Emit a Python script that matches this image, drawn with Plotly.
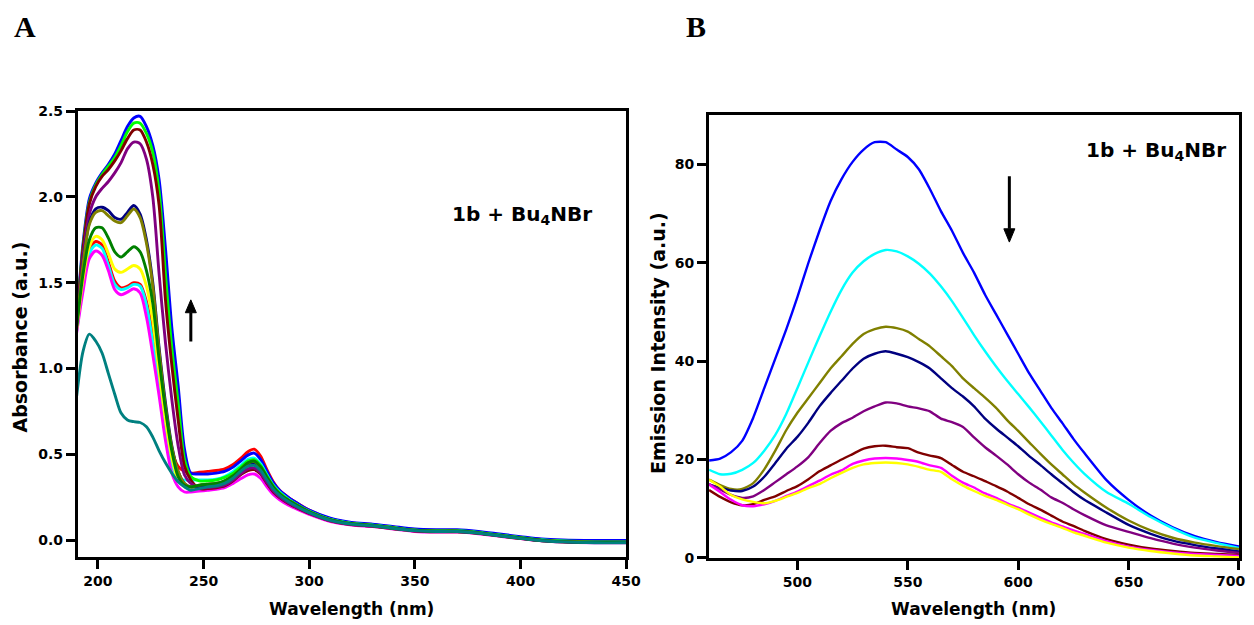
import plotly.graph_objects as go

# ---------------- Panel A : absorbance ----------------
wl_a = [190, 193, 196, 199, 202, 205, 208, 211, 214, 217, 220, 223, 226, 229, 232, 235, 238, 241, 244, 248,
        252, 256, 260, 264, 268, 271, 274, 277, 280, 283, 286, 290, 295, 300, 310, 320, 330, 340, 350, 360,
        370, 380, 390, 400, 410, 420, 435, 450]

abs_red = [1.23, 1.50, 1.69, 1.74, 1.72, 1.62, 1.51, 1.47, 1.48, 1.50, 1.49, 1.39, 1.20, 0.95, 0.70, 0.52, 0.43, 0.40, 0.39, 0.395,
           0.40, 0.405, 0.415, 0.44, 0.48, 0.515, 0.53, 0.49, 0.41, 0.34, 0.29, 0.25, 0.21, 0.175, 0.125, 0.10, 0.09, 0.075, 0.06, 0.055,
           0.055, 0.045, 0.03, 0.015, 0.002, -0.005, -0.01, -0.01]
abs_blue = [1.29, 1.73, 1.99, 2.08, 2.14, 2.19, 2.25, 2.33, 2.41, 2.46, 2.47, 2.41, 2.30, 2.10, 1.70, 1.24, 0.90, 0.53, 0.39, 0.385,
            0.385, 0.39, 0.40, 0.425, 0.465, 0.495, 0.507, 0.47, 0.40, 0.335, 0.29, 0.25, 0.21, 0.175, 0.128, 0.103, 0.093, 0.078, 0.064, 0.06,
            0.06, 0.05, 0.035, 0.02, 0.006, 0.0, -0.003, -0.003]
abs_cyan = [1.22, 1.48, 1.67, 1.72, 1.70, 1.60, 1.49, 1.46, 1.47, 1.49, 1.48, 1.37, 1.15, 0.88, 0.63, 0.44, 0.36, 0.35, 0.35, 0.35,
            0.35, 0.355, 0.37, 0.40, 0.44, 0.47, 0.478, 0.445, 0.38, 0.32, 0.28, 0.24, 0.20, 0.168, 0.12, 0.097, 0.087, 0.072, 0.058, 0.053,
            0.053, 0.043, 0.028, 0.013, 0.0, -0.007, -0.012, -0.012]
abs_lime = [1.28, 1.71, 1.97, 2.07, 2.13, 2.18, 2.23, 2.30, 2.38, 2.43, 2.43, 2.37, 2.26, 2.03, 1.55, 1.12, 0.80, 0.47, 0.37, 0.345,
            0.345, 0.35, 0.365, 0.39, 0.43, 0.46, 0.468, 0.435, 0.375, 0.315, 0.275, 0.237, 0.20, 0.167, 0.12, 0.097, 0.087, 0.072, 0.058, 0.054,
            0.054, 0.044, 0.029, 0.014, 0.0, -0.006, -0.011, -0.011]
abs_magenta = [1.21, 1.45, 1.64, 1.685, 1.66, 1.57, 1.46, 1.43, 1.445, 1.465, 1.44, 1.30, 1.08, 0.84, 0.58, 0.39, 0.31, 0.28, 0.28, 0.285,
               0.29, 0.295, 0.305, 0.33, 0.36, 0.38, 0.385, 0.36, 0.31, 0.265, 0.235, 0.205, 0.175, 0.15, 0.108, 0.088, 0.078, 0.064, 0.05, 0.046,
               0.046, 0.037, 0.022, 0.008, -0.005, -0.012, -0.016, -0.016]
abs_yellow = [1.23, 1.52, 1.71, 1.77, 1.75, 1.67, 1.58, 1.56, 1.58, 1.60, 1.58, 1.48, 1.28, 0.98, 0.70, 0.48, 0.35, 0.31, 0.30, 0.305,
              0.31, 0.315, 0.33, 0.36, 0.405, 0.435, 0.44, 0.41, 0.35, 0.295, 0.26, 0.225, 0.19, 0.16, 0.115, 0.093, 0.083, 0.068, 0.055, 0.05,
              0.05, 0.04, 0.025, 0.01, -0.003, -0.01, -0.014, -0.014]
abs_maroon = [1.27, 1.70, 1.96, 2.06, 2.12, 2.16, 2.21, 2.27, 2.34, 2.39, 2.39, 2.32, 2.19, 1.95, 1.40, 1.02, 0.70, 0.43, 0.35, 0.30,
              0.30, 0.305, 0.315, 0.345, 0.385, 0.405, 0.41, 0.385, 0.33, 0.28, 0.248, 0.215, 0.183, 0.155, 0.112, 0.09, 0.08, 0.066, 0.053, 0.048,
              0.048, 0.039, 0.024, 0.009, -0.004, -0.011, -0.015, -0.015]
abs_purple = [1.26, 1.66, 1.90, 2.00, 2.05, 2.09, 2.14, 2.20, 2.28, 2.32, 2.31, 2.22, 2.00, 1.55, 1.15, 0.82, 0.55, 0.38, 0.33, 0.305,
              0.305, 0.31, 0.32, 0.35, 0.39, 0.415, 0.42, 0.39, 0.335, 0.285, 0.25, 0.218, 0.185, 0.157, 0.113, 0.091, 0.081, 0.067, 0.054, 0.049,
              0.049, 0.04, 0.025, 0.01, -0.003, -0.01, -0.014, -0.014]
abs_navy = [1.25, 1.62, 1.85, 1.93, 1.94, 1.92, 1.88, 1.87, 1.91, 1.95, 1.90, 1.75, 1.50, 1.12, 0.80, 0.55, 0.40, 0.33, 0.31, 0.315,
            0.32, 0.325, 0.34, 0.37, 0.41, 0.44, 0.45, 0.42, 0.36, 0.305, 0.265, 0.23, 0.195, 0.163, 0.117, 0.094, 0.084, 0.069, 0.056, 0.051,
            0.051, 0.041, 0.026, 0.011, -0.002, -0.009, -0.013, -0.013]
abs_olive = [1.25, 1.61, 1.84, 1.91, 1.92, 1.89, 1.86, 1.85, 1.89, 1.93, 1.88, 1.73, 1.48, 1.10, 0.78, 0.54, 0.40, 0.33, 0.31, 0.32,
             0.325, 0.33, 0.345, 0.375, 0.415, 0.448, 0.458, 0.425, 0.365, 0.31, 0.27, 0.233, 0.197, 0.165, 0.118, 0.095, 0.085, 0.07, 0.057, 0.052,
             0.052, 0.042, 0.027, 0.012, -0.002, -0.008, -0.013, -0.013]
abs_green = [1.24, 1.55, 1.75, 1.82, 1.82, 1.76, 1.68, 1.65, 1.68, 1.71, 1.68, 1.57, 1.38, 1.05, 0.76, 0.52, 0.37, 0.32, 0.31, 0.32,
             0.325, 0.33, 0.345, 0.375, 0.418, 0.45, 0.46, 0.427, 0.367, 0.31, 0.27, 0.233, 0.197, 0.165, 0.118, 0.095, 0.085, 0.07, 0.057, 0.052,
             0.052, 0.042, 0.027, 0.012, -0.002, -0.009, -0.014, -0.014]
abs_teal = [0.84, 1.10, 1.20, 1.16, 1.09, 0.97, 0.85, 0.74, 0.70, 0.69, 0.685, 0.66, 0.60, 0.52, 0.45, 0.39, 0.34, 0.31, 0.29, 0.30,
            0.31, 0.315, 0.33, 0.36, 0.405, 0.43, 0.435, 0.405, 0.35, 0.297, 0.26, 0.225, 0.19, 0.16, 0.115, 0.093, 0.083, 0.068, 0.055, 0.05,
            0.05, 0.04, 0.025, 0.01, -0.004, -0.011, -0.016, -0.016]

series_a = [
    (abs_red, "#FF0000"), (abs_blue, "#0000FF"), (abs_cyan, "#00FFFF"), (abs_lime, "#00FF00"),
    (abs_magenta, "#FF00FF"), (abs_yellow, "#FFFF00"), (abs_maroon, "#800000"), (abs_purple, "#800080"),
    (abs_navy, "#000080"), (abs_olive, "#808000"), (abs_green, "#008000"), (abs_teal, "#008080"),
]

# ---------------- Panel B : emission ----------------
wl_b = [460, 465, 470, 475, 480, 485, 490, 495, 500, 505, 510, 515, 520, 525, 530, 535, 540, 545, 550, 555,
        560, 565, 570, 575, 580, 585, 590, 595, 600, 605, 610, 615, 620, 625, 630, 640, 650, 660, 670, 680,
        690, 700]

em_blue = [19.8, 20.2, 21.5, 23.8, 28.5, 34.5, 40.5, 46.5, 53, 60, 66.5, 72.5, 77, 80.5, 83, 84.5, 84.5, 83, 81.5, 79,
           75, 70.5, 66.5, 62, 58, 53.5, 49.5, 45.5, 41.5, 37.5, 34, 30.5, 27.4, 24.2, 21.3, 15.8, 11.8, 8.6, 6.2, 4.4,
           3.2, 2.3]
em_cyan = [17.9, 17.0, 17.1, 17.9, 19.3, 21.8, 25, 29.3, 34.5, 39.8, 45.0, 50.0, 54.5, 58.0, 60.3, 61.8, 62.6, 62.3, 61.3, 59.8,
           57.8, 55.2, 52.2, 48.8, 45.3, 42.0, 38.9, 36.0, 33.3, 30.6, 27.8, 24.9, 22.0, 19.4, 17.1, 13.4, 11.0, 8.3, 6.0, 4.1,
           3.0, 2.0]
em_olive = [15.9, 14.8, 14.0, 14.0, 15.2, 18.0, 21.8, 26, 29.5, 32.5, 35.5, 38.5, 41, 43.5, 45.5, 46.5, 47, 46.7, 46, 44.5,
            43, 41, 39, 36.5, 34.5, 32.6, 30.5, 28, 25.8, 23.5, 21.2, 19, 17, 15, 13.3, 10.2, 7.6, 5.6, 4.1, 3.1,
            2.4, 1.8]
em_navy = [14.9, 14.3, 13.7, 13.6, 14.5, 16.5, 19.3, 22.2, 24.6, 27.5, 30.8, 33.5, 36, 38.5, 40.5, 41.5, 42, 41.5, 40.8, 39.8,
           38.5, 36.5, 34.5, 32.8, 30.8, 28.3, 26.3, 24.5, 22.7, 20.7, 18.9, 17, 15.2, 13.4, 11.8, 9.2, 6.7, 4.9, 3.5, 2.6,
           1.9, 1.3]
em_purple = [15.0, 13.9, 12.8, 12.2, 12.5, 13.8, 15.4, 17.0, 18.6, 20.5, 23.3, 25.8, 27.4, 28.5, 29.8, 30.8, 31.6, 31.4, 30.8, 30.4,
             29.8, 28.3, 27.6, 26.6, 24.5, 22.5, 20.8, 19.0, 17.0, 15.3, 13.9, 12.3, 11.2, 9.9, 8.7, 6.6, 5.3, 4.0, 2.9, 2.1,
             1.5, 1.0]
em_maroon = [13.8, 12.4, 11.3, 10.7, 10.9, 11.8, 12.5, 13.6, 14.6, 16.0, 17.6, 18.8, 20.0, 21.1, 22.2, 22.7, 22.8, 22.5, 22.3, 21.4,
             20.8, 20.3, 18.9, 17.5, 16.6, 15.6, 14.6, 13.5, 12.2, 10.9, 9.8, 8.6, 7.4, 6.5, 5.5, 3.8, 2.7, 1.9, 1.4, 1.0,
             0.8, 0.6]
em_magenta = [14.9, 13.4, 11.8, 10.7, 10.5, 10.9, 11.6, 12.6, 13.5, 14.6, 15.7, 16.9, 17.8, 19.1, 19.8, 20.2, 20.3, 20.2, 19.9, 19.5,
              18.8, 18.3, 16.7, 15.3, 14.3, 13.1, 12.2, 11.1, 10.2, 9.2, 8.2, 7.2, 6.4, 5.6, 4.9, 3.4, 2.3, 1.6, 1.1, 0.8,
              0.6, 0.4]
em_yellow = [15.9, 14.5, 12.8, 11.9, 11.4, 11.1, 11.6, 12.4, 13.2, 14.2, 15.0, 16.2, 17.3, 18.3, 19.0, 19.3, 19.4, 19.3, 19.0, 18.5,
             17.9, 17.5, 16.0, 14.7, 13.6, 12.6, 11.8, 10.8, 9.9, 8.8, 7.8, 6.9, 6.1, 5.2, 4.5, 3.1, 2.1, 1.4, 0.9, 0.5,
             0.3, 0.1]

series_b = [
    (em_blue, "#0000FF"), (em_cyan, "#00FFFF"), (em_olive, "#808000"), (em_navy, "#000080"),
    (em_purple, "#800080"), (em_maroon, "#800000"), (em_magenta, "#FF00FF"), (em_yellow, "#FFFF00"),
]

ticks_a_x = [200, 250, 300, 350, 400, 450]
ticks_a_y = [0.0, 0.5, 1.0, 1.5, 2.0, 2.5]
ticks_b_x = [500, 550, 600, 650, 700]
ticks_b_xtext = ["500", "550", "600", "650", ""]   # "700" is written as an annotation so it is not clipped
ticks_b_y = [0, 20, 40, 60, 80]

fig = go.Figure()
for vals, col in series_a:
    fig.add_trace(go.Scatter(x=wl_a, y=vals, mode="lines", xaxis="x", yaxis="y", showlegend=False,
                             line=dict(color=col, width=2.9, shape="spline", smoothing=0.8)))
for vals, col in series_b:
    fig.add_trace(go.Scatter(x=wl_b, y=vals, mode="lines", xaxis="x2", yaxis="y2", showlegend=False,
                             line=dict(color=col, width=2.4, shape="spline", smoothing=0.6)))

tick_font = dict(family="DejaVu Sans", size=14, color="black", weight="bold")
ax_common = dict(showline=True, mirror=True, linewidth=3, linecolor="black", ticks="outside",
                 ticklen=9, tickwidth=3, tickcolor="black", showgrid=False, zeroline=False,
                 tickfont=tick_font)

W, H = 1254, 625
# the page lays the figure out in a slightly smaller box (body margins); map target pixels onto it
OX, OY, EW, EH = 8.0, 17.0, 1238.0, 608.0


def px_x(p):
    return (p - OX) / EW


def px_y(p):
    return 1.0 - (p - OY) / EH


fig.update_layout(
    width=W, height=H, margin=dict(l=0, r=0, t=0, b=0),
    paper_bgcolor="white", plot_bgcolor="white",
    xaxis=dict(domain=[px_x(77.7), px_x(625.7)], range=[190.5, 450], tickvals=ticks_a_x,
               anchor="y", **ax_common),
    yaxis=dict(domain=[px_y(557.3), px_y(112)], range=[-0.1, 2.5], tickvals=ticks_a_y,
               tickformat=".1f", anchor="x", **ax_common),
    xaxis2=dict(domain=[px_x(708.5), px_x(1238)], range=[460, 700], tickvals=ticks_b_x,
                ticktext=ticks_b_xtext, anchor="y2", **ax_common),
    yaxis2=dict(domain=[px_y(558), px_y(116)], range=[0, 90], tickvals=ticks_b_y,
                anchor="x2", **ax_common),
)

title_font = dict(family="DejaVu Sans", size=17, color="black", weight="bold")
ytitle_font = dict(family="DejaVu Sans", size=19, color="black", weight="bold")
label_font = dict(family="DejaVu Sans", size=20, color="black", weight="bold")
panel_font = dict(family="Liberation Serif", size=30, color="black", weight="bold")

annots = [
    dict(text="Wavelength (nm)", x=px_x(351.7), y=px_y(609), font=title_font),
    dict(text="Wavelength (nm)", x=px_x(973), y=px_y(609), font=title_font),
    dict(text="Absorbance (a.u.)", x=px_x(20), y=px_y(338), font=ytitle_font, textangle=-90),
    dict(text="Emission Intensity (a.u.)", x=px_x(657), y=px_y(344), font=ytitle_font, textangle=-90),
    dict(text="1b + Bu<sub>4</sub>NBr", x=px_x(522), y=px_y(216), font=label_font),
    dict(text="1b + Bu<sub>4</sub>NBr", x=px_x(1155), y=px_y(152), font=label_font),
    dict(text="A", x=px_x(25), y=px_y(27), font=panel_font),
    dict(text="B", x=px_x(695), y=px_y(27), font=panel_font),
]
for a in annots:
    fig.add_annotation(xref="paper", yref="paper", showarrow=False, xanchor="center", yanchor="middle", **a)

# last tick label of panel B, right-aligned at the paper edge
fig.add_annotation(xref="paper", yref="paper", x=1.0, y=px_y(581), text="700", showarrow=False,
                   xanchor="right", yanchor="middle", font=tick_font)

# arrows drawn as shapes (shaft + head) in data coordinates
arrow_a = dict(x=244.0, tail=1.157, base=1.325, head=1.40, half=2.6)
arrow_b = dict(x=596.0, tail=77.6, base=66.9, head=64.2, half=2.5)
for arr, xr, yr in [(arrow_a, "x", "y"), (arrow_b, "x2", "y2")]:
    fig.add_shape(type="line", xref=xr, yref=yr, x0=arr["x"], x1=arr["x"], y0=arr["tail"], y1=arr["base"],
                  line=dict(color="black", width=3))
    fig.add_shape(type="path", xref=xr, yref=yr,
                  path=f"M {arr['x'] - arr['half']},{arr['base']} L {arr['x'] + arr['half']},{arr['base']} "
                       f"L {arr['x']},{arr['head']} Z",
                  fillcolor="black", line=dict(color="black", width=1))

fig.write_html("out.html")
